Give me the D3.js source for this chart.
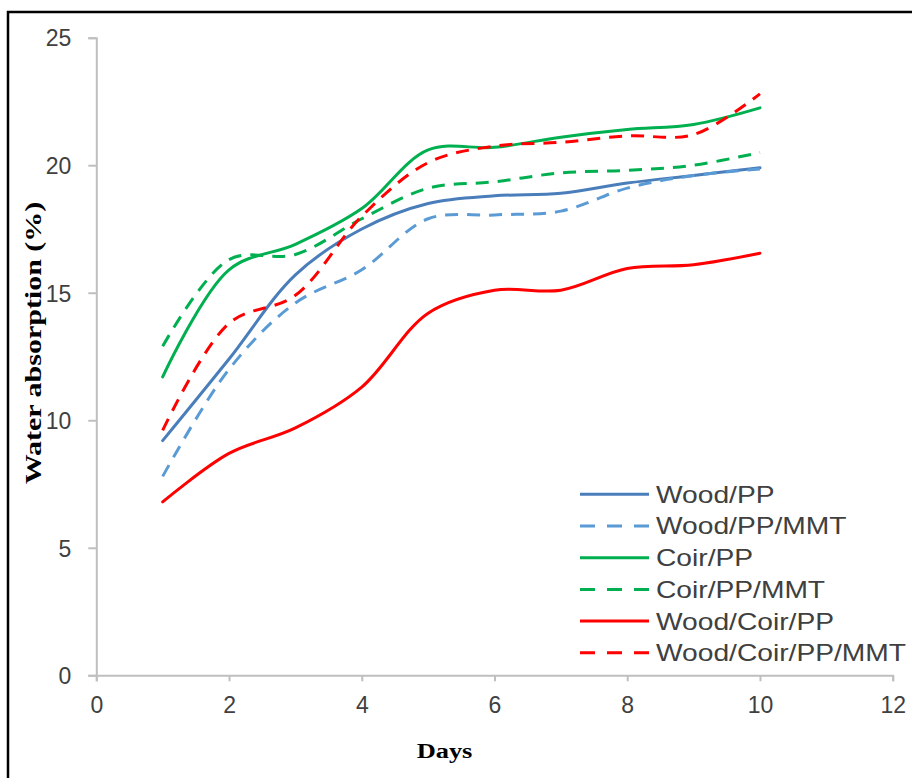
<!DOCTYPE html>
<html>
<head>
<meta charset="utf-8">
<script src="https://cdn.jsdelivr.net/npm/d3@7"></script>
<style>
  html, body { margin: 0; padding: 0; background: #fff; }
  svg { display: block; }
</style>
</head>
<body>
<svg id="chart" width="912" height="778"></svg>
<script>
// ---- data ----
const days = [1, 2, 3, 4, 5, 6, 7, 8, 9, 10];
const woodPP        = [9.2, 12.4, 15.7, 17.5, 18.5, 18.8, 18.9, 19.3, 19.6, 19.9];
const woodPPMMT     = [7.8, 12.0, 14.6, 15.9, 17.9, 18.05, 18.2, 19.1, 19.6, 19.85];
const coirPP        = [11.7, 15.9, 16.9, 18.3, 20.6, 20.7, 21.1, 21.4, 21.6, 22.25];
const coirPPMMT     = [12.9, 16.3, 16.5, 17.9, 19.1, 19.35, 19.7, 19.8, 20.0, 20.5];
const woodCoirPP    = [6.8, 8.7, 9.7, 11.3, 14.2, 15.1, 15.1, 15.95, 16.1, 16.55];
const woodCoirPPMMT = [9.6, 13.8, 14.9, 18.0, 20.1, 20.75, 20.9, 21.15, 21.2, 22.8];
const seriesNames = ["Wood/PP", "Wood/PP/MMT", "Coir/PP", "Coir/PP/MMT", "Wood/Coir/PP", "Wood/Coir/PP/MMT"];
const seriesValues = [woodPP, woodPPMMT, coirPP, coirPPMMT, woodCoirPP, woodCoirPPMMT];
const xTicks = [0, 2, 4, 6, 8, 10, 12];
const yTicks = [0, 5, 10, 15, 20, 25];
const xTitle = "Days";
const yTitle = "Water absorption (%)";

// ---- styles ----
const colors = ["#4A7EBB", "#5B9BD5", "#00B050", "#00B050", "#FF0000", "#FF0000"];
const dashes = [null, "13,9", null, "13,9", null, "13,9"];

const svg = d3.select("#chart");

// frame
svg.append("rect")
  .attr("x", 8).attr("y", 12).attr("width", 940).attr("height", 800)
  .attr("fill", "none").attr("stroke", "#000").attr("stroke-width", 2.5);

const x = d3.scaleLinear().domain([0, 12]).range([96.3, 892.7]);
const y = d3.scaleLinear().domain([0, 25]).range([675.3, 37.7]);

const axisColor = "#BFBFBF";
const labelColor = "#404040";

// y axis
const yAxis = svg.append("g")
  .attr("transform", `translate(${x(0)},0)`)
  .call(d3.axisLeft(y).tickValues(yTicks).tickSize(8).tickPadding(17).tickFormat(d3.format("d")));
// x axis
const xAxis = svg.append("g")
  .attr("transform", `translate(0,${y(0)})`)
  .call(d3.axisBottom(x).tickValues(xTicks).tickSize(6).tickPadding(15).tickFormat(d3.format("d")));

[xAxis, yAxis].forEach(g => {
  g.select(".domain").attr("stroke", axisColor).attr("stroke-width", 2);
  g.selectAll(".tick line").attr("stroke", axisColor).attr("stroke-width", 2);
  g.selectAll(".tick text")
    .attr("fill", labelColor)
    .style("font-family", "'Liberation Sans', Arial, sans-serif")
    .style("font-size", "23px");
});
yAxis.selectAll(".tick text").attr("dy", "0.36em");
xAxis.selectAll(".tick text").attr("dy", "0.72em");

// lines
const line = d3.line()
  .x((d, i) => x(days[i]))
  .y(d => y(d))
  .curve(d3.curveCatmullRom.alpha(0.5));

seriesValues.forEach((vals, k) => {
  svg.append("path")
    .datum(vals)
    .attr("d", line)
    .attr("fill", "none")
    .attr("stroke", colors[k])
    .attr("stroke-width", 3)
    .attr("stroke-dasharray", dashes[k])
    .attr("stroke-linecap", dashes[k] ? "butt" : "round");
});

// legend
const legend = svg.append("g");
seriesNames.forEach((name, k) => {
  const ly = 494.3 + k * 31.7;
  legend.append("line")
    .attr("x1", 580).attr("x2", 649).attr("y1", ly).attr("y2", ly)
    .attr("stroke", colors[k]).attr("stroke-width", 3)
    .attr("stroke-dasharray", dashes[k] ? "15,12" : null);
  legend.append("text")
    .attr("transform", `translate(656,${ly}) scale(1.2,1)`)
    .attr("dy", "0.36em")
    .attr("fill", labelColor)
    .style("font-family", "'Liberation Sans', Arial, sans-serif")
    .style("font-size", "23.5px")
    .text(name);
});

// axis titles
svg.append("text")
  .attr("transform", `translate(${(x(0) + x(12)) / 2 - 50},758) scale(1.2,1)`)
  .attr("text-anchor", "middle")
  .style("font-family", "'Liberation Serif', 'Times New Roman', serif")
  .style("font-weight", "bold")
  .style("font-size", "22px")
  .attr("fill", "#000")
  .text(xTitle);

svg.append("text")
  .attr("transform", `translate(41,343) rotate(-90) scale(1.25,1)`)
  .attr("text-anchor", "middle")
  .style("font-family", "'Liberation Serif', 'Times New Roman', serif")
  .style("font-weight", "bold")
  .style("font-size", "24px")
  .attr("fill", "#000")
  .text(yTitle);
</script>
</body>
</html>
